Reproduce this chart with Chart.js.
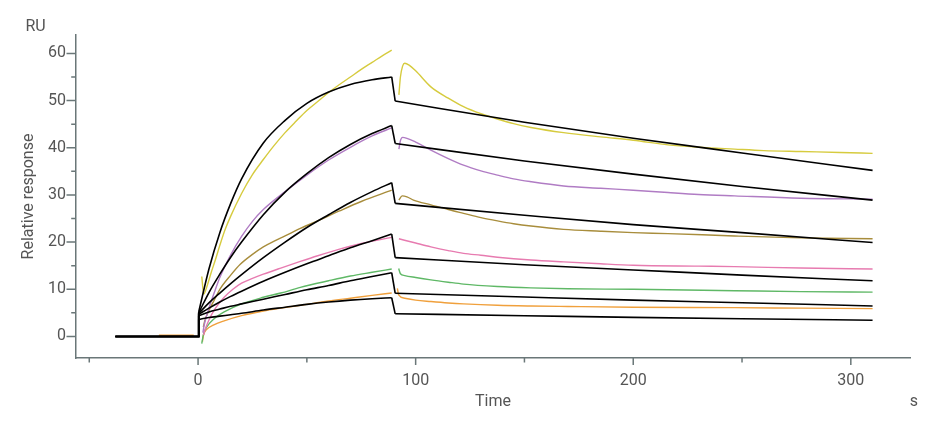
<!DOCTYPE html>
<html><head><meta charset="utf-8">
<script src="https://cdn.jsdelivr.net/npm/chart.js@4.4.1/dist/chart.umd.min.js"></script>
<style>html,body{margin:0;padding:0;background:#fff;overflow:hidden}</style>
</head><body>
<canvas id="c" width="942" height="424"></canvas>
<script>
// ---------- axis ranges & ticks ----------
const xMin = -56.1, xMax = 327.2;
const yMin = -4.57, yMax = 63.9;
const xTickValues = [0, 100, 200, 300];
const xMinorTicks = [-50, 50, 150, 250];
const yTickValues = [0, 10, 20, 30, 40, 50, 60];
const yMinorTicks = [5, 15, 25, 35, 45, 55];

// ---------- fitted curves (black) ----------
const fitBaseT  = [-38, 0];
const fitBaseV  = [0, 0];
const fitAssocT = [0.3, 5, 10, 15, 20, 30, 40, 50, 60, 70, 80, 89];
const fitDissT  = [90.6, 150, 200, 250, 310];
const fit1Assoc = [5.2, 14.3, 22.0, 28.2, 33.4, 41.0, 45.8, 49.4, 51.8, 53.4, 54.4, 55.0];
const fit1Diss  = [49.9, 45.4, 42.0, 38.9, 35.2];
const fit2Assoc = [5.0, 9.3, 13.2, 16.8, 20.0, 25.8, 30.6, 34.5, 37.9, 40.7, 43.0, 44.7];
const fit2Diss  = [40.9, 37.2, 34.4, 31.8, 28.9];
const fit3Assoc = [4.9, 7.1, 9.2, 11.2, 13.1, 16.7, 20.0, 23.1, 25.8, 28.4, 30.7, 32.6];
const fit3Diss  = [28.2, 25.7, 23.7, 22.0, 19.9];
const fit4Assoc = [4.7, 6.0, 7.3, 8.5, 9.6, 11.7, 13.6, 15.4, 17.1, 18.8, 20.3, 21.7];
const fit4Diss  = [16.7, 15.2, 14.1, 13.0, 11.8];
const fit5Assoc = [4.4, 5.2, 5.8, 6.4, 6.9, 7.9, 8.9, 9.9, 10.8, 11.8, 12.7, 13.5];
const fit5Diss  = [9.15, 8.35, 7.7, 7.15, 6.46];
const fit6Assoc = [3.6, 4.0, 4.3, 4.6, 4.9, 5.6, 6.2, 6.8, 7.3, 7.7, 8.0, 8.2];
const fit6Diss  = [4.8, 4.4, 4.05, 3.75, 3.43];

// ---------- measured curves ----------
const yellowAssocT = [1.7, 2.6, 4, 6, 8, 10, 12.4, 15, 20, 25, 30, 35, 40, 45, 50, 55, 60, 65, 70, 75, 80, 85, 89];
const yellowAssocV = [12.7, 9.0, 10.5, 13.5, 16.3, 19.3, 22.6, 25.5, 30.3, 34.3, 37.5, 40.5, 43.2, 45.6, 47.9, 49.8, 51.7, 53.4, 55.0, 56.6, 58.1, 59.6, 60.7];
const yellowDissT  = [92.3, 93, 94, 95, 97, 100, 107, 115, 122, 130, 137.6, 145, 153, 168, 185, 200, 216, 230, 246.6, 260, 277, 295, 310];
const yellowDissV  = [51.2, 55.0, 57.3, 57.9, 57.5, 56.3, 52.9, 50.5, 48.7, 47.2, 46.1, 45.1, 44.3, 43.2, 42.3, 41.6, 40.6, 40.1, 39.7, 39.4, 39.2, 39.0, 38.8];

const purpleAssocT = [2.2, 3, 5, 8, 10, 15, 20, 25, 30, 40, 50, 60, 70, 80, 89];
const purpleAssocV = [0.8, 2.8, 6.0, 10.0, 12.5, 17.3, 21.2, 24.4, 26.9, 30.7, 34.2, 37.4, 40.1, 42.5, 44.2];
const purpleDissT  = [92.3, 93, 94, 96, 100, 107, 115, 122, 130, 137.6, 145, 153, 168, 185, 200, 216, 230, 246.6, 277, 310];
const purpleDissV  = [39.7, 41.5, 42.2, 42.0, 41.2, 39.5, 37.7, 36.3, 35.1, 34.2, 33.4, 32.8, 31.9, 31.4, 31.0, 30.5, 30.1, 29.8, 29.3, 29.1];

const oliveAssocT = [2.4, 3.2, 5, 8, 10, 15, 19.4, 25, 30, 35, 40, 47, 56, 65, 75, 89];
const oliveAssocV = [2.0, 3.5, 5.5, 8.2, 10.0, 13.0, 15.3, 17.4, 19.0, 20.2, 21.3, 22.9, 24.7, 26.6, 28.6, 31.0];
const oliveDissT  = [92.3, 93.8, 96, 99, 107, 115, 122, 130, 137.6, 145, 153, 168, 185, 200, 216, 246.6, 277, 310];
const oliveDissV  = [28.9, 29.8, 29.6, 28.9, 27.9, 26.9, 26.1, 25.2, 24.5, 23.9, 23.4, 22.7, 22.3, 22.0, 21.8, 21.3, 20.9, 20.7];

const pinkAssocT = [2.5, 3.2, 5, 8, 12, 16, 20, 25, 30, 38, 47, 55, 65, 75, 89];
const pinkAssocV = [0.3, 1.4, 3.5, 6.0, 8.3, 10.0, 11.3, 12.3, 13.2, 14.5, 15.9, 17.1, 18.5, 19.7, 21.0];
const pinkDissT  = [92.3, 100, 107, 115, 122, 130, 137.6, 153, 168, 185, 200, 230, 246.6, 277, 310];
const pinkDissV  = [20.7, 19.8, 19.0, 18.2, 17.6, 17.2, 16.8, 16.2, 15.8, 15.4, 15.1, 14.9, 14.8, 14.5, 14.3];

const greenAssocT = [1.7, 2.5, 4, 7, 12, 20, 30, 38, 47, 60, 70, 80, 89];
const greenAssocV = [-1.5, 0.5, 2.0, 3.6, 5.2, 6.9, 8.3, 9.2, 10.4, 11.8, 12.8, 13.6, 14.3];
const greenDissT  = [92.2, 93, 95, 100, 107, 115, 122, 137.6, 153, 170, 200, 246.6, 277, 310];
const greenDissV  = [14.4, 13.3, 12.9, 12.5, 12.0, 11.5, 11.1, 10.6, 10.3, 10.1, 10.0, 9.7, 9.5, 9.4];

const orangeBaseT  = [-18, -2];
const orangeBaseV  = [0.25, 0.25];
const orangeAssocT = [2.0, 2.5, 4, 7, 12, 20, 30, 38, 47, 60, 70, 80, 89];
const orangeAssocV = [-1.1, 0.3, 1.5, 2.4, 3.3, 4.4, 5.4, 6.0, 6.6, 7.5, 8.1, 8.7, 9.2];
const orangeDissT  = [91.6, 92.2, 95, 100, 107, 115, 122, 137.6, 153, 170, 200, 246.6, 277, 310];
const orangeDissV  = [10.2, 8.8, 8.1, 7.7, 7.4, 7.1, 6.9, 6.6, 6.45, 6.35, 6.2, 6.1, 6.0, 5.9];

// ---------- styles ----------
const AXIS = '#6a7778';
const TEXT = '#555555';
const FAMILY = 'Roboto, "Noto Sans", "DejaVu Sans", sans-serif';
const COL = {
  yellow: '#d6cb3e', purple: '#b07cc4', olive: '#a88d3c',
  pink: '#e77bb0', green: '#5fb866', orange: '#f0a03c'
};

// ---------- helpers ----------
function pts(t, v) { return t.map((x, i) => ({ x, y: v[i] })); }
function seg(data, color, width, order, smooth) {
  return { data, borderColor: color, borderWidth: width, pointRadius: 0, fill: false,
           tension: smooth ? 0.4 : 0, cubicInterpolationMode: smooth ? 'monotone' : 'default',
           order };
}
const datasets = [];
function addFit(a, d) {
  const base = pts(fitBaseT, fitBaseV);
  const assoc = pts(fitAssocT, a);
  const diss = pts(fitDissT, d);
  datasets.push(seg(base.concat([assoc[0]]), '#000', 1.6, 0, false));
  datasets.push(seg(assoc, '#000', 1.6, 0, true));
  datasets.push(seg([assoc[assoc.length - 1], diss[0]], '#000', 1.6, 0, false));
  datasets.push(seg(diss, '#000', 1.6, 0, true));
}
function addData(color, ...parts) {
  parts.forEach(p => datasets.push(seg(p, color, 1.4, 1, true)));
}
addFit(fit1Assoc, fit1Diss);
addFit(fit2Assoc, fit2Diss);
addFit(fit3Assoc, fit3Diss);
addFit(fit4Assoc, fit4Diss);
addFit(fit5Assoc, fit5Diss);
addFit(fit6Assoc, fit6Diss);
addData(COL.yellow, pts(yellowAssocT, yellowAssocV), pts(yellowDissT, yellowDissV));
addData(COL.purple, pts(purpleAssocT, purpleAssocV), pts(purpleDissT, purpleDissV));
addData(COL.olive, pts(oliveAssocT, oliveAssocV), pts(oliveDissT, oliveDissV));
addData(COL.pink, pts(pinkAssocT, pinkAssocV), pts(pinkDissT, pinkDissV));
addData(COL.green, pts(greenAssocT, greenAssocV), pts(greenDissT, greenDissV));
addData(COL.orange, pts(orangeBaseT, orangeBaseV), pts(orangeAssocT, orangeAssocV), pts(orangeDissT, orangeDissV));

const tickPlugin = {
  id: 'axisTicks',
  afterDraw(chart) {
    const { ctx, chartArea: a, scales: { x, y } } = chart;
    ctx.save();
    ctx.strokeStyle = AXIS;
    ctx.lineWidth = 1.5;
    ctx.beginPath();
    xTickValues.forEach(v => { const p = x.getPixelForValue(v); ctx.moveTo(p, a.bottom); ctx.lineTo(p, a.bottom + 7); });
    xMinorTicks.forEach(v => { const p = x.getPixelForValue(v); ctx.moveTo(p, a.bottom); ctx.lineTo(p, a.bottom + 4.5); });
    yTickValues.forEach(v => { const p = y.getPixelForValue(v); ctx.moveTo(a.left, p); ctx.lineTo(a.left - 9.5, p); });
    yMinorTicks.forEach(v => { const p = y.getPixelForValue(v); ctx.moveTo(a.left, p); ctx.lineTo(a.left - 4.8, p); });
    ctx.stroke();
    ctx.fillStyle = TEXT;
    ctx.font = '16px ' + FAMILY;
    ctx.textAlign = 'center';
    ctx.textBaseline = 'alphabetic';
    ctx.fillText('RU', a.left - 40.5, 31);
    ctx.fillText('s', a.right + 4, 405.5);
    ctx.restore();
  }
};

new Chart(document.getElementById('c'), {
  type: 'line',
  data: { datasets },
  options: {
    responsive: false,
    animation: false,
    events: [],
    layout: { padding: { top: 35, right: 32, left: 0, bottom: 0 } },
    plugins: { legend: { display: false }, tooltip: { enabled: false } },
    scales: {
      x: {
        type: 'linear', min: xMin, max: xMax,
        afterFit: s => { s.height = 66; },
        afterBuildTicks: s => { s.ticks = xTickValues.map(v => ({ value: v })); },
        grid: { display: false, drawTicks: false },
        border: { display: true, color: AXIS, width: 1.5 },
        ticks: { color: TEXT, font: { family: FAMILY, size: 16 }, padding: 13, maxRotation: 0, autoSkip: false },
        title: { display: true, text: 'Time', color: TEXT, font: { family: FAMILY, size: 16 }, padding: { top: 0, bottom: 12.4 } }
      },
      y: {
        type: 'linear', min: yMin, max: yMax,
        afterFit: s => { s.width = 76; },
        afterBuildTicks: s => { s.ticks = yTickValues.map(v => ({ value: v })); },
        grid: { display: false, drawTicks: false },
        border: { display: true, color: AXIS, width: 1.5 },
        ticks: { color: TEXT, font: { family: FAMILY, size: 16 }, padding: 10, autoSkip: false },
        title: { display: true, text: 'Relative response', color: TEXT, font: { family: FAMILY, size: 16 }, padding: { top: 19.5, bottom: 0 } }
      }
    }
  },
  plugins: [tickPlugin]
});
</script>
</body></html>
